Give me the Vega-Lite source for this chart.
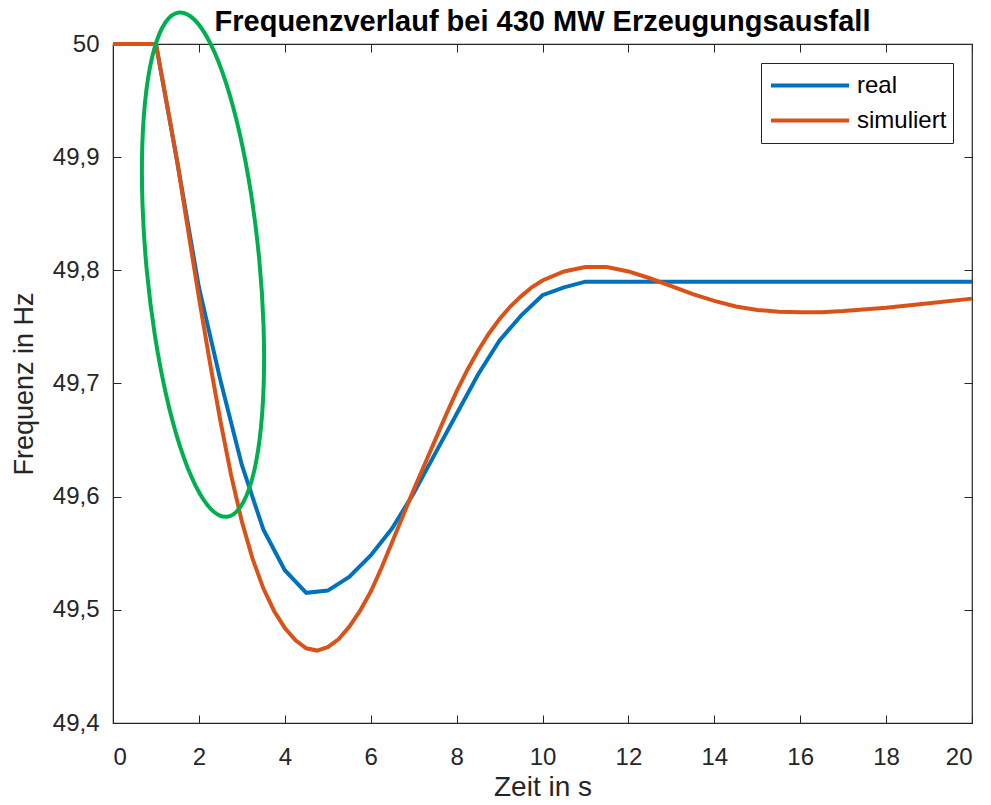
{
  "$schema": "https://vega.github.io/schema/vega-lite/v6.json",
  "width": 859,
  "height": 679,
  "autosize": {"type": "none"},
  "padding": {"left": 113, "top": 44, "right": 19, "bottom": 82},
  "background": "white",
  "config": {
    "font": "Liberation Sans",
    "view": {"stroke": "#262626", "strokeWidth": 1.2},
    "axis": {"grid": false, "domainColor": "#262626", "tickColor": "#262626", "labelColor": "#262626", "titleColor": "#262626", "labelFont": "Liberation Sans", "titleFont": "Liberation Sans", "titleFontWeight": "normal"}
  },
  "title": {"text": "Frequenzverlauf bei 430 MW Erzeugungsausfall", "fontSize": 29, "fontWeight": "bold", "font": "Liberation Sans", "color": "#000000", "offset": -33, "anchor": "middle"},
  "datasets": {
    "curves": [
      {"t": 0, "f": 50, "s": "real"},
      {"t": 1, "f": 50, "s": "real"},
      {"t": 1.5, "f": 49.895, "s": "real"},
      {"t": 2, "f": 49.785, "s": "real"},
      {"t": 2.5, "f": 49.703, "s": "real"},
      {"t": 3, "f": 49.628, "s": "real"},
      {"t": 3.5, "f": 49.571, "s": "real"},
      {"t": 4, "f": 49.535, "s": "real"},
      {"t": 4.5, "f": 49.515, "s": "real"},
      {"t": 5, "f": 49.517, "s": "real"},
      {"t": 5.5, "f": 49.529, "s": "real"},
      {"t": 6, "f": 49.548, "s": "real"},
      {"t": 6.5, "f": 49.572, "s": "real"},
      {"t": 7, "f": 49.603, "s": "real"},
      {"t": 7.5, "f": 49.638, "s": "real"},
      {"t": 8, "f": 49.673, "s": "real"},
      {"t": 8.5, "f": 49.708, "s": "real"},
      {"t": 9, "f": 49.738, "s": "real"},
      {"t": 9.5, "f": 49.76, "s": "real"},
      {"t": 10, "f": 49.778, "s": "real"},
      {"t": 10.5, "f": 49.785, "s": "real"},
      {"t": 11, "f": 49.79, "s": "real"},
      {"t": 20, "f": 49.79, "s": "real"},
      {"t": 0, "f": 50, "s": "simuliert"},
      {"t": 1, "f": 50, "s": "simuliert"},
      {"t": 1.25, "f": 49.948, "s": "simuliert"},
      {"t": 1.5, "f": 49.895, "s": "simuliert"},
      {"t": 1.75, "f": 49.835, "s": "simuliert"},
      {"t": 2, "f": 49.776, "s": "simuliert"},
      {"t": 2.25, "f": 49.72, "s": "simuliert"},
      {"t": 2.5, "f": 49.667, "s": "simuliert"},
      {"t": 2.75, "f": 49.619, "s": "simuliert"},
      {"t": 3, "f": 49.578, "s": "simuliert"},
      {"t": 3.25, "f": 49.545, "s": "simuliert"},
      {"t": 3.5, "f": 49.519, "s": "simuliert"},
      {"t": 3.75, "f": 49.499, "s": "simuliert"},
      {"t": 4, "f": 49.484, "s": "simuliert"},
      {"t": 4.25, "f": 49.473, "s": "simuliert"},
      {"t": 4.5, "f": 49.466, "s": "simuliert"},
      {"t": 4.75, "f": 49.464, "s": "simuliert"},
      {"t": 5, "f": 49.467, "s": "simuliert"},
      {"t": 5.25, "f": 49.474, "s": "simuliert"},
      {"t": 5.5, "f": 49.485, "s": "simuliert"},
      {"t": 5.75, "f": 49.499, "s": "simuliert"},
      {"t": 6, "f": 49.516, "s": "simuliert"},
      {"t": 6.25, "f": 49.537, "s": "simuliert"},
      {"t": 6.5, "f": 49.56, "s": "simuliert"},
      {"t": 6.75, "f": 49.583, "s": "simuliert"},
      {"t": 7, "f": 49.606, "s": "simuliert"},
      {"t": 7.25, "f": 49.628, "s": "simuliert"},
      {"t": 7.5, "f": 49.65, "s": "simuliert"},
      {"t": 7.75, "f": 49.672, "s": "simuliert"},
      {"t": 8, "f": 49.693, "s": "simuliert"},
      {"t": 8.25, "f": 49.712, "s": "simuliert"},
      {"t": 8.5, "f": 49.729, "s": "simuliert"},
      {"t": 8.75, "f": 49.744, "s": "simuliert"},
      {"t": 9, "f": 49.757, "s": "simuliert"},
      {"t": 9.25, "f": 49.768, "s": "simuliert"},
      {"t": 9.5, "f": 49.777, "s": "simuliert"},
      {"t": 9.75, "f": 49.785, "s": "simuliert"},
      {"t": 10, "f": 49.791, "s": "simuliert"},
      {"t": 10.5, "f": 49.799, "s": "simuliert"},
      {"t": 11, "f": 49.803, "s": "simuliert"},
      {"t": 11.5, "f": 49.803, "s": "simuliert"},
      {"t": 12, "f": 49.799, "s": "simuliert"},
      {"t": 12.5, "f": 49.793, "s": "simuliert"},
      {"t": 13, "f": 49.786, "s": "simuliert"},
      {"t": 13.5, "f": 49.779, "s": "simuliert"},
      {"t": 14, "f": 49.773, "s": "simuliert"},
      {"t": 14.5, "f": 49.768, "s": "simuliert"},
      {"t": 15, "f": 49.765, "s": "simuliert"},
      {"t": 15.5, "f": 49.7635, "s": "simuliert"},
      {"t": 16, "f": 49.763, "s": "simuliert"},
      {"t": 16.5, "f": 49.763, "s": "simuliert"},
      {"t": 17, "f": 49.764, "s": "simuliert"},
      {"t": 18, "f": 49.767, "s": "simuliert"},
      {"t": 19, "f": 49.771, "s": "simuliert"},
      {"t": 20, "f": 49.775, "s": "simuliert"}
    ],
    "ellipse": [
      {"i": 0, "t": 2.6505, "f": 49.5822},
      {"i": 1, "t": 2.9707, "f": 49.5911},
      {"i": 2, "t": 3.2312, "f": 49.6145},
      {"i": 3, "t": 3.414, "f": 49.6508},
      {"i": 4, "t": 3.5071, "f": 49.6977},
      {"i": 5, "t": 3.5041, "f": 49.7519},
      {"i": 6, "t": 3.4051, "f": 49.8097},
      {"i": 7, "t": 3.2168, "f": 49.8672},
      {"i": 8, "t": 2.952, "f": 49.9205},
      {"i": 9, "t": 2.6289, "f": 49.9659},
      {"i": 10, "t": 2.2696, "f": 50.0003},
      {"i": 11, "t": 1.8983, "f": 50.0214},
      {"i": 12, "t": 1.5404, "f": 50.0278},
      {"i": 13, "t": 1.2203, "f": 50.019},
      {"i": 14, "t": 0.9597, "f": 49.9956},
      {"i": 15, "t": 0.777, "f": 49.9592},
      {"i": 16, "t": 0.6838, "f": 49.9124},
      {"i": 17, "t": 0.6868, "f": 49.8582},
      {"i": 18, "t": 0.7858, "f": 49.8003},
      {"i": 19, "t": 0.9742, "f": 49.7428},
      {"i": 20, "t": 1.2389, "f": 49.6896},
      {"i": 21, "t": 1.562, "f": 49.6442},
      {"i": 22, "t": 1.9213, "f": 49.6098},
      {"i": 23, "t": 2.2927, "f": 49.5886}
    ]
  },
  "layer": [
    {
      "data": {"name": "curves"},
      "mark": {"type": "line", "strokeWidth": 4, "interpolate": "linear"},
      "encoding": {
        "x": {"field": "t", "type": "quantitative", "scale": {"domain": [0, 20], "nice": false, "zero": false},
              "axis": {"orient": "bottom", "values": [0,2,4,6,8,10,12,14,16,18,20], "title": "Zeit in s", "titleFontSize": 28, "titlePadding": 4, "labelFontSize": 24, "tickSize": -8, "labelPadding": 30, "domain": true}},
        "y": {"field": "f", "type": "quantitative", "scale": {"domain": [49.4, 50], "nice": false, "zero": false},
              "axis": {"orient": "left", "values": [49.4,49.5,49.6,49.7,49.8,49.9,50], "format": ",.1~f", "formatType": "number", "labelExpr": "replace(datum.label, '.', ',')", "title": "Frequenz in Hz", "titleFontSize": 27, "titlePadding": 14, "labelFontSize": 24, "tickSize": -8, "labelPadding": 22}},
        "color": {"field": "s", "type": "nominal", "scale": {"domain": ["real", "simuliert"], "range": ["#0072BD", "#D95319"]},
                  "legend": {"title": null, "orient": "top-right", "offset": 19, "strokeColor": "#262626", "fillColor": "white", "padding": 6, "rowPadding": 2, "clipHeight": 33, "labelFontSize": 24, "labelColor": "#000000", "symbolType": "stroke", "symbolStrokeWidth": 4, "symbolSize": 6084, "symbolOffset": 2, "labelOffset": 6}},
        "order": {"field": "t", "type": "quantitative"}
      }
    },
    {
      "data": {"name": "ellipse"},
      "mark": {"type": "line", "strokeWidth": 4, "color": "#00B050", "interpolate": "cardinal-closed", "clip": false},
      "encoding": {
        "x": {"field": "t", "type": "quantitative", "axis": {"orient": "top", "values": [0,2,4,6,8,10,12,14,16,18,20], "labels": false, "title": null, "tickSize": -8, "domain": false}},
        "y": {"field": "f", "type": "quantitative", "axis": {"orient": "right", "values": [49.4,49.5,49.6,49.7,49.8,49.9,50], "labels": false, "title": null, "tickSize": -8, "domain": false}},
        "order": {"field": "i", "type": "quantitative"}
      }
    }
  ],
  "resolve": {"axis": {"x": "independent", "y": "independent"}}
}
